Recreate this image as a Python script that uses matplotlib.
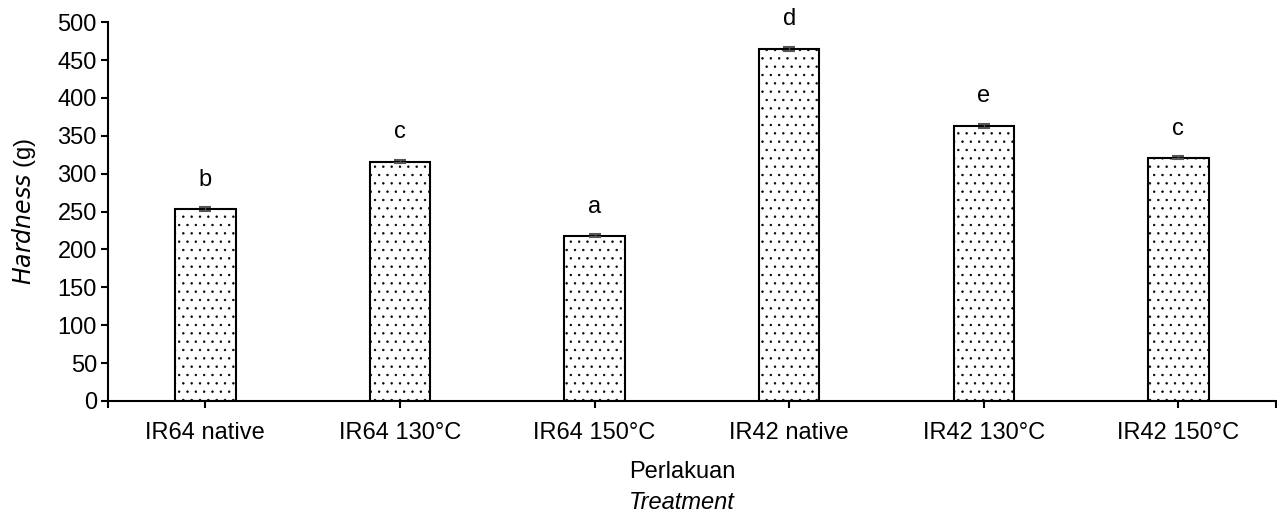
import matplotlib
import matplotlib.pyplot as plt
import numpy as np

matplotlib.use("Agg")

categories = ["IR64 native", "IR64 130°C", "IR64 150°C", "IR42 native", "IR42 130°C", "IR42 150°C"]
hardness = [253, 316, 218, 465, 363, 321]
errors = [2.5, 2.5, 2, 2.5, 3, 2]
letters = ["b", "c", "a", "d", "e", "c"]

plt.rcParams["font.family"] = ["Liberation Sans", "DejaVu Sans"]
plt.rcParams["hatch.linewidth"] = 0.5

fig = plt.figure(figsize=(12.77, 5.15), dpi=100)
ax = fig.add_axes([0.0846, 0.2214, 0.9144, 0.7356])

x = np.arange(len(categories))
ax.bar(x, hardness, width=0.31, color="white", edgecolor="black", linewidth=1.5,
       hatch="..", zorder=2)
ax.errorbar(x, hardness, yerr=errors, fmt="none", ecolor="#555555", elinewidth=1,
            capsize=4.5, capthick=1.5, zorder=3)

for xi, val, err, lab in zip(x, hardness, errors, letters):
    ax.text(xi, val + err + 36, lab, ha="center", va="center", fontsize=17)

ax.set_xlim(-0.5, len(categories) - 0.5)
ax.set_ylim(0, 500)
ax.set_yticks(np.arange(0, 501, 50))
ax.set_xticks(x)
ax.set_xticklabels(categories)
ax.set_xticks([-0.5, len(categories) - 0.5], minor=True)

ax.spines["top"].set_visible(False)
ax.spines["right"].set_visible(False)
ax.spines["left"].set_linewidth(1.5)
ax.spines["bottom"].set_linewidth(1.5)
ax.tick_params(axis="both", which="both", direction="out", length=5, width=1.5,
               labelsize=17)
ax.tick_params(axis="x", pad=10)
ax.tick_params(axis="y", pad=3)

ax.set_ylabel(r"$\it{Hardness}$ (g)", fontsize=17, labelpad=14)
fig.text(0.534, 0.084, "Perlakuan", ha="center", va="center", fontsize=17)
fig.text(0.534, 0.001, "Treatment", ha="center", va="bottom", fontsize=17, style="italic")

fig.savefig("out.png", dpi=100)
